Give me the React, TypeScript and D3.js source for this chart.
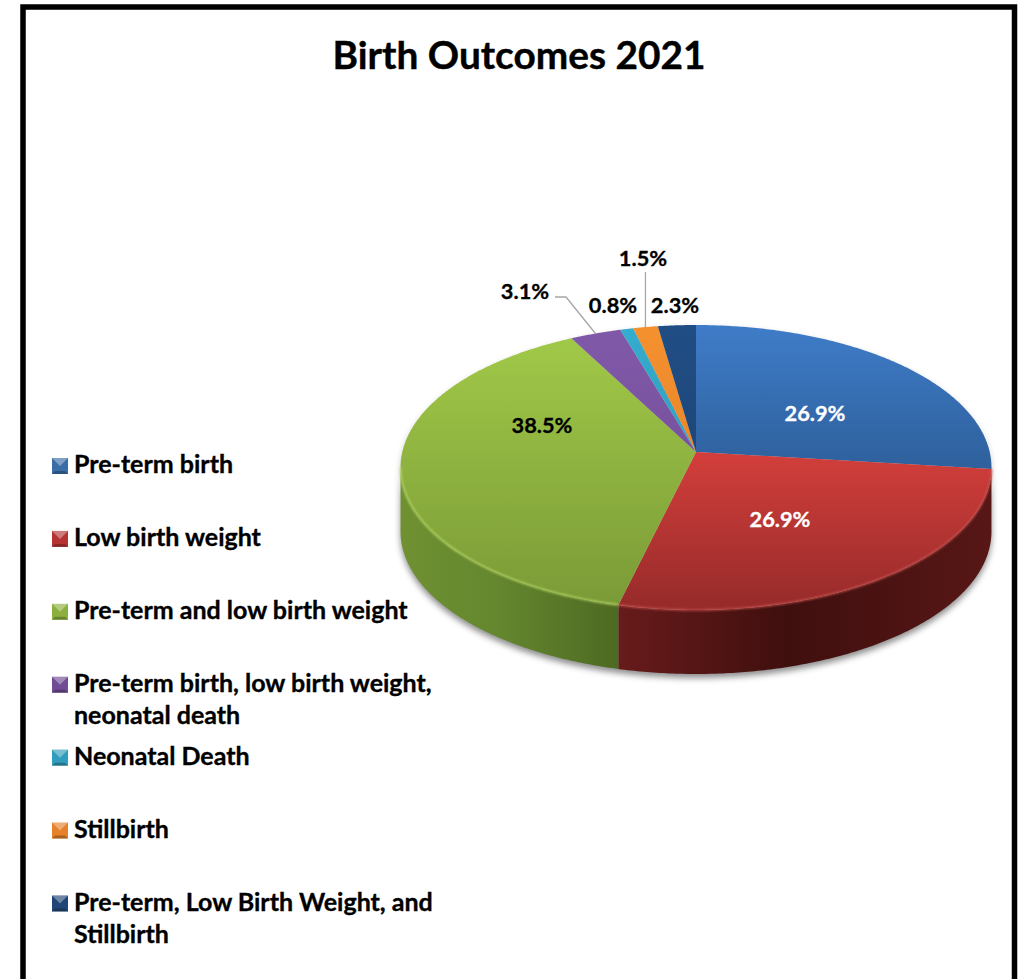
import React from 'react';
import * as d3 from 'd3';

const title = 'Birth Outcomes 2021';
const categories = [
  'Pre-term birth',
  'Low birth weight',
  'Pre-term and low birth weight',
  'Pre-term birth, low birth weight, neonatal death',
  'Neonatal Death',
  'Stillbirth',
  'Pre-term, Low Birth Weight, and Stillbirth',
];
const values = [26.9, 26.9, 38.5, 3.1, 0.8, 1.5, 2.3];
const legendLines = [
  ['Pre-term birth'],
  ['Low birth weight'],
  ['Pre-term and low birth weight'],
  ['Pre-term birth, low birth weight,', 'neonatal death'],
  ['Neonatal Death'],
  ['Stillbirth'],
  ['Pre-term, Low Birth Weight, and', 'Stillbirth'],
];

// top face gradient stops, side gradient stops
const topColors = [
  ['#3f7cc8', '#2d5f9a'],
  ['#d23e3b', '#962b2a'],
  ['#a1c948', '#7a9a37'],
  ['#8058a8', '#6d4a90'],
  ['#35abcd', '#2c93b0'],
  ['#f4902e', '#dd7a20'],
  ['#204d84', '#1b3f6c'],
];
const sideColors = [
  ['#23466f', '#23466f', '#23466f'],
  ['#681b1b', '#3f0f0e', '#571716'],
  ['#6f9132', '#64862e', '#4d6a22'],
  ['#4a3366', '#4a3366', '#4a3366'],
  ['#1f6f86', '#1f6f86', '#1f6f86'],
  ['#9c5514', '#9c5514', '#9c5514'],
  ['#132c4d', '#132c4d', '#132c4d'],
];
const legendColors = ['#3a6ea8', '#b53433', '#8cb03e', '#6f4c93', '#2f9dbb', '#e5822a', '#1f4677'];
const labelColors = ['#fff', '#fff', '#000', '#000', '#000', '#000', '#000'];

const labelPos: [number, number][] = [
  [815, 413], [780, 519], [542, 425], [525, 291], [613, 305], [643, 258], [675, 305],
];
const FONT = 'Lato, Carlito, sans-serif';

const W = 1023;
const H = 979;
const cx = 696;
const cy = 452;
const rx = 293.7;
const ry = 140.8;
const persp = -0.1088; // foreshortening of the tilted disc
const depth = 64;

// angle is clockwise from 12 o'clock, r as fraction of the radius
function project(a: number, r = 1): [number, number] {
  const u = Math.sin(a) * r;
  const v = -Math.cos(a) * r;
  const w = 1 + persp * v;
  return [cx + (rx * u) / w, cy + (ry * v) / w];
}

const pieGen = d3.pie<number>().sort(null).startAngle(0).endAngle(2 * Math.PI);
const arcs = pieGen(values);
const line = d3.line();

function sample(a0: number, a1: number) {
  const n = Math.max(2, Math.ceil(Math.abs(a1 - a0) / 0.01));
  return d3.range(n + 1).map(i => a0 + ((a1 - a0) * i) / n);
}

function topPath(a0: number, a1: number) {
  return line([[cx, cy], ...sample(a0, a1).map(a => project(a))]) + 'Z';
}

// the side is only seen between the two points where the rim turns back
const sideStart = Math.acos(persp);
const sideEnd = 2 * Math.PI - sideStart;

function sidePath(a0: number, a1: number) {
  const s = Math.max(a0, sideStart);
  const e = Math.min(a1, sideEnd);
  if (e <= s) return null;
  const rim = sample(s, e).map(a => project(a));
  const under = rim.slice().reverse().map(([x, y]): [number, number] => [x, y + depth]);
  return line([...rim, ...under]) + 'Z';
}

function rimPath(a0: number, a1: number) {
  const s = Math.max(a0, sideStart);
  const e = Math.min(a1, sideEnd);
  if (e <= s) return null;
  return line(sample(s, e).map(a => project(a)));
}

const silhouette = sidePath(0, 2 * Math.PI);
const disc = line(sample(0, 2 * Math.PI).map(a => project(a))) + 'Z';
const leader31 = line([[555, 297], [566, 297], project((arcs[3].startAngle + arcs[3].endAngle) / 2)]);
const p15 = project((arcs[5].startAngle + arcs[5].endAngle) / 2);
const leader15 = line([[p15[0], 272], p15]);

const legendY = d3.scaleLinear().domain([0, 6]).range([465, 902.5]);

export default function App() {
  return (
    <svg width={W} height={H} style={{ position: 'absolute', left: 0, top: 0, display: 'block' }}>
      <defs>
        <filter id="soft" x="-10%" y="-10%" width="120%" height="120%">
          <feGaussianBlur stdDeviation="3" />
        </filter>
        <filter id="rimBlur" x="-5%" y="-5%" width="110%" height="110%">
          <feGaussianBlur stdDeviation="1" />
        </filter>
        {arcs.map((d, i) => {
          const mid = project((d.startAngle + d.endAngle) / 2);
          return (
            <linearGradient key={i} id={`top${i}`} gradientUnits="userSpaceOnUse" x1={mid[0]} x2={mid[0]} y1={i === 0 ? 325 : i === 1 ? 455 : 335} y2={i === 0 ? 475 : 608}>
              <stop offset="0" stopColor={topColors[i][0]} />
              <stop offset="1" stopColor={topColors[i][1]} />
            </linearGradient>
          );
        })}
        {arcs.map((d, i) => {
          const a = project(d.startAngle);
          const b = project(d.endAngle);
          return (
            <linearGradient key={i} id={`side${i}`} gradientUnits="userSpaceOnUse"
              x1={i === 1 ? 619 : i === 2 ? 401 : Math.min(a[0], b[0])}
              x2={i === 1 ? 992 : i === 2 ? 619 : Math.max(a[0], b[0])} y1="0" y2="0">
              <stop offset="0" stopColor={sideColors[i][0]} />
              <stop offset="0.45" stopColor={sideColors[i][1]} />
              <stop offset="1" stopColor={sideColors[i][2]} />
            </linearGradient>
          );
        })}
      </defs>

      <rect x={23} y={7} width={991.5} height={H + 20} fill="#fff" stroke="#000" strokeWidth={5.5} />

      <text x={519} y={69} textAnchor="middle" fontFamily={FONT} fontWeight={700} fontSize={38.8} stroke="#000" strokeWidth={0.4}>{title}</text>

      {/* shadow under the pie */}
      {silhouette && <path d={silhouette} transform="translate(0,4)" fill="#666" opacity={0.75} filter="url(#soft)" />}
      <path d={disc} transform="translate(0,3)" fill="#999" opacity={0.5} filter="url(#soft)" />

      {arcs.map((d, i) => {
        const p = sidePath(d.startAngle, d.endAngle);
        return p ? <path key={i} d={p} fill={`url(#side${i})`} /> : null;
      })}

      {arcs.map((d, i) => (
        <path key={categories[i]} d={topPath(d.startAngle, d.endAngle)} fill={`url(#top${i})`} />
      ))}

      {/* bevel on the front rim */}
      {arcs.map((d, i) => {
        const p = rimPath(d.startAngle, d.endAngle);
        return p ? <path key={i} d={p} fill="none" stroke={i === 2 ? '#b4d562' : '#c8504c'} strokeWidth={1.6} filter="url(#rimBlur)" /> : null;
      })}

      <path d={leader31 as string} fill="none" stroke="#a6a6a6" strokeWidth={1.3} />
      <path d={leader15 as string} fill="none" stroke="#a6a6a6" strokeWidth={1.3} />

      {values.map((v, i) => (
        <text key={i} x={labelPos[i][0]} y={labelPos[i][1]} dy="0.35em" textAnchor="middle"
          fontFamily={FONT} fontWeight={700} fontSize={21.8} fill={labelColors[i]}
          stroke={labelColors[i]} strokeWidth={0.3}>
          {v.toFixed(1)}%
        </text>
      ))}

      {legendLines.map((lines, i) => {
        const y = legendY(i);
        return (
          <g key={categories[i]}>
            <rect x={52} y={y - 7} width={16} height={16} fill={legendColors[i]} />
            <path d={`M52,${y - 7}h16l-8,8z`} fill="#fff" opacity={0.35} />
            <path d={`M52,${y + 9}h16l-3,-3h-10z`} fill="#000" opacity={0.25} />
            {lines.map((t, j) => (
              <text key={j} x={74} y={y + 8 + j * 32} fontFamily={FONT} fontWeight={700} fontSize={25}
                stroke="#000" strokeWidth={0.35}>{t}</text>
            ))}
          </g>
        );
      })}
    </svg>
  );
}
